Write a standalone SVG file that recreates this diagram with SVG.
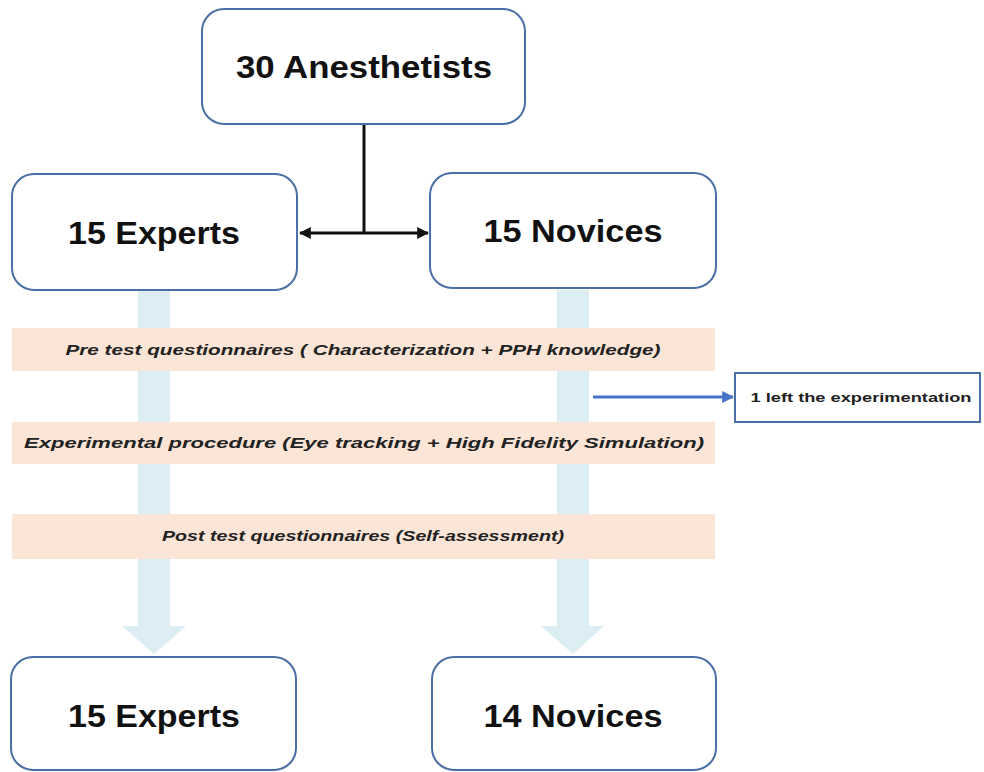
<svg xmlns="http://www.w3.org/2000/svg" width="984" height="772" viewBox="0 0 984 772">
<style>
.box{fill:#fff;stroke:#4a6fa5;stroke-width:2}
.big{font-family:"Liberation Sans",Arial,sans-serif;font-weight:bold;font-size:31px;fill:#111;text-anchor:middle}
.band{fill:#fbe5d6}
.shaft{fill:#dcedf4}
.it{font-family:"Liberation Sans",Arial,sans-serif;font-weight:bold;font-style:italic;font-size:15px;fill:#222;text-anchor:middle}
.small{font-family:"Liberation Sans",Arial,sans-serif;font-weight:bold;font-size:13px;fill:#222;text-anchor:middle}
</style>
<defs>
<marker id="blk" viewBox="0 0 10 10" refX="9" refY="5" markerWidth="4" markerHeight="4" orient="auto-start-reverse"><path d="M0,0 L10,5 L0,10 z" fill="#111"/></marker>
<marker id="blu" viewBox="0 0 10 10" refX="9" refY="5" markerWidth="4" markerHeight="4" orient="auto"><path d="M0,0 L10,5 L0,10 z" fill="#4472c4"/></marker>
</defs>
<rect width="984" height="772" fill="#fff"/>
<g id="flow-arrows">
<path class="shaft" d="M138,290 H170 V626 H186 L154,654 L122,626 H138 Z"/>
<path class="shaft" d="M557,290 H589 V626 H604 L573,654 L541,626 H557 Z"/>
</g>
<g id="band1"><rect class="band" x="12" y="328" width="703" height="43"/><text class="it" x="363" y="355" textLength="595" lengthAdjust="spacingAndGlyphs">Pre test questionnaires ( Characterization + PPH knowledge)</text></g>
<g id="band2"><rect class="band" x="12" y="422" width="703" height="42"/><text class="it" x="364" y="448" textLength="680" lengthAdjust="spacingAndGlyphs">Experimental procedure (Eye tracking + High Fidelity Simulation)</text></g>
<g id="band3"><rect class="band" x="12" y="514" width="703" height="45"/><text class="it" x="363" y="541" textLength="402" lengthAdjust="spacingAndGlyphs">Post test questionnaires (Self-assessment)</text></g>
<g id="connectors">
<path d="M364,124 V233" stroke="#111" stroke-width="3" fill="none"/>
<path d="M300,233 H428" stroke="#111" stroke-width="3" fill="none" marker-start="url(#blk)" marker-end="url(#blk)"/>
<path d="M593,397 H733" stroke="#4472c4" stroke-width="3" fill="none" marker-end="url(#blu)"/>
</g>
<g id="n-anesthetists"><rect class="box" x="202" y="9" width="323" height="115" rx="22"/><text class="big" x="364" y="78" textLength="256" lengthAdjust="spacingAndGlyphs">30 Anesthetists</text></g>
<g id="n-experts"><rect class="box" x="12" y="174" width="285" height="116" rx="22"/><text class="big" x="154" y="244" textLength="172" lengthAdjust="spacingAndGlyphs">15 Experts</text></g>
<g id="n-novices"><rect class="box" x="430" y="173" width="286" height="115" rx="22"/><text class="big" x="573" y="242" textLength="179" lengthAdjust="spacingAndGlyphs">15 Novices</text></g>
<g id="n-left"><rect class="box" x="735" y="373" width="245" height="49"/><text class="small" x="861" y="402" textLength="221" lengthAdjust="spacingAndGlyphs">1 left the experimentation</text></g>
<g id="n-experts2"><rect class="box" x="11" y="657" width="285" height="113" rx="22"/><text class="big" x="154" y="727" textLength="172" lengthAdjust="spacingAndGlyphs">15 Experts</text></g>
<g id="n-novices2"><rect class="box" x="432" y="657" width="284" height="113" rx="22"/><text class="big" x="573" y="727" textLength="179" lengthAdjust="spacingAndGlyphs">14 Novices</text></g>
</svg>
